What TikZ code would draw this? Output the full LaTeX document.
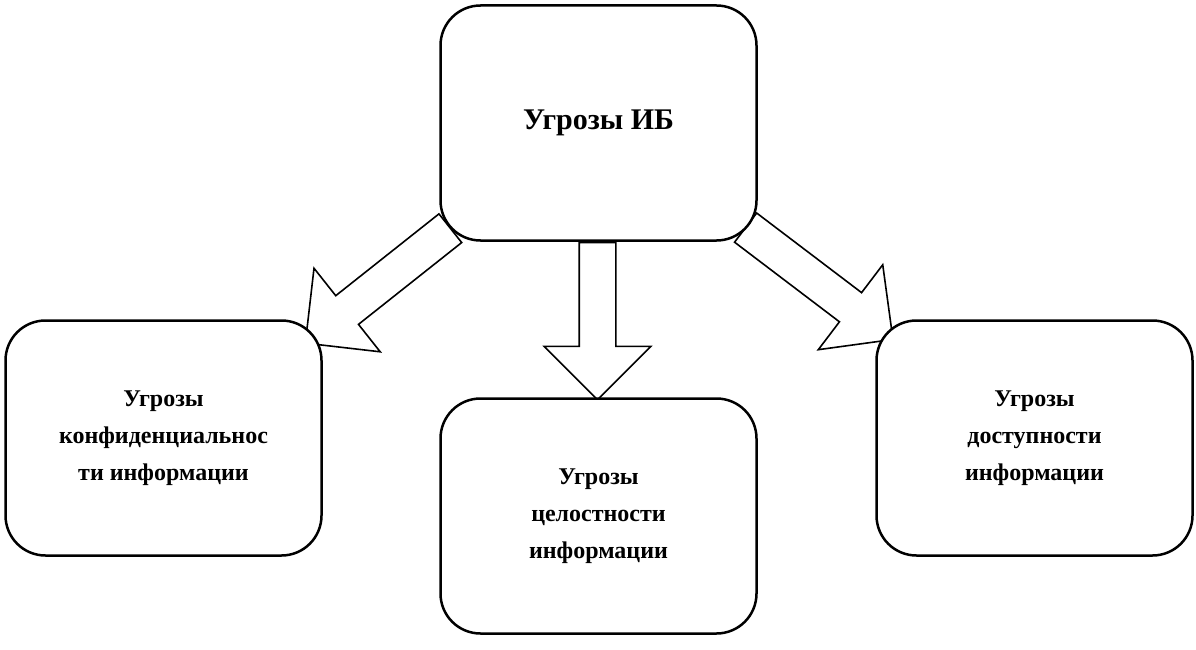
\documentclass[tikz,border=0pt]{standalone}
\usepackage{fontspec}
\setmainfont{Liberation Serif}
\usetikzlibrary{shapes.arrows}

\tikzset{
  threat/.style={draw, fill=white, line width=2.5pt, rounded corners=40pt, minimum width=316pt,
    minimum height=235pt, align=center, font=\fontsize{24}{37}\selectfont\bfseries},
  blockarrow/.style={draw, line width=1.6pt, single arrow, single arrow head extend=35pt,
    minimum width=105pt, inner sep=17.5pt, single arrow tip angle=90}
}

\begin{document}
\begin{tikzpicture}[x=1pt,y=-1pt]
  \useasboundingbox (0,0) rectangle (1196,650);
  % arrows
  \node[blockarrow, minimum height=185pt, rotate=218.4] (toconf) at (385,280) {};
  \node[blockarrow, minimum height=157pt, rotate=-90] (tointeg) at (597.5,312) {};
  \node[blockarrow, minimum height=185pt, rotate=-37.2] (toavail) at (812,278) {};
  % boxes
  \node[threat, font=\fontsize{30}{37}\selectfont\bfseries] (ib) at (598.5,123) {Угрозы ИБ};
  \node[threat] (conf) at (163.5,438) {Угрозы\\конфиденциальнос\\ти информации};
  \node[threat] (integ) at (598.5,516) {Угрозы\\целостности\\информации};
  \node[threat] (avail) at (1034.5,438) {Угрозы\\доступности\\информации};
\end{tikzpicture}
\end{document}
